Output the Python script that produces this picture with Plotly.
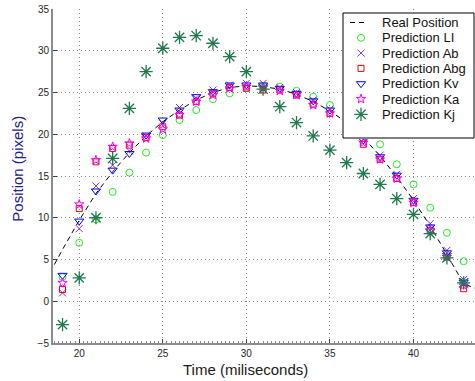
import plotly.graph_objects as go

# ---------------- data ----------------
time_ms = list(range(19, 44))
real_time = list(range(18, 45))
real_pos = [2.5, 6.2, 9.7, 12.9, 15.5, 17.8, 19.8, 21.5, 22.9, 24.1, 25.0, 25.6, 25.8,
            25.7, 25.4, 24.8, 23.9, 22.8, 21.4, 19.6, 17.4, 14.9, 12.1, 9.0, 5.6, 2.1, 1.3]

pred_li = [2.9, 7.0, 9.8, 13.1, 15.4, 17.8, 19.9, 21.7, 22.9, 24.2, 24.9, 25.6, 25.8,
           25.7, 25.2, 24.5, 23.5, 22.4, 20.9, 18.8, 16.4, 14.0, 11.2, 8.2, 4.8]
pred_ab = [1.0, 8.7, 13.8, 16.3, 18.0, 19.8, 21.3, 23.2, 24.3, 25.3, 25.9, 26.1, 26.1,
           25.6, 25.0, 24.1, 23.0, 21.6, 19.4, 17.5, 15.2, 12.3, 9.3, 6.1, 2.6]
pred_abg = [1.4, 11.1, 16.7, 18.3, 18.7, 19.6, 20.9, 22.3, 23.9, 24.9, 25.6, 25.5, 25.3,
            25.3, 24.7, 23.6, 22.5, 21.1, 18.8, 17.0, 14.7, 11.8, 8.5, 5.3, 1.5]
pred_kv = [3.1, 9.6, 13.2, 15.7, 17.7, 19.9, 21.7, 22.9, 24.5, 25.1, 25.9, 25.9, 25.9,
           25.5, 24.9, 24.0, 22.9, 21.5, 19.3, 17.3, 15.1, 12.1, 8.9, 5.8, 2.3]
pred_ka = [2.2, 11.6, 16.9, 18.5, 18.9, 19.5, 20.6, 22.3, 23.9, 24.7, 25.5, 25.7, 25.6,
           25.2, 24.7, 23.5, 22.5, 21.1, 19.0, 17.0, 14.7, 11.8, 8.5, 5.3, 1.9]
pred_kj = [-2.8, 2.8, 10.0, 17.1, 23.1, 27.5, 30.3, 31.6, 31.8, 30.9, 29.3, 27.5, 25.4,
           23.3, 21.4, 19.8, 18.1, 16.6, 15.3, 14.0, 12.3, 10.4, 8.1, 5.2, 2.2]

x_ticks = [20, 25, 30, 35, 40]
y_ticks = [-5, 0, 5, 10, 15, 20, 25, 30, 35]

real_name = "Real Position"
pred_names = ["Prediction LI", "Prediction Ab", "Prediction Abg",
              "Prediction Kv", "Prediction Ka", "Prediction Kj"]
pred_values = [pred_li, pred_ab, pred_abg, pred_kv, pred_ka, pred_kj]

# ---------------- styles ----------------
pred_styles = [
    dict(symbol="circle-open", size=7, color="#22ee22", line=dict(width=1, color="#22ee22")),
    dict(symbol="x-thin-open", size=7, color="#8a2be2", line=dict(width=1, color="#8a2be2")),
    dict(symbol="square-open", size=6, color="#ff0000", line=dict(width=1, color="#ff0000")),
    dict(symbol="triangle-down-open", size=8, color="#0000ff", line=dict(width=1, color="#0000ff")),
    dict(symbol="star-open", size=7, color="#ff00ff", line=dict(width=1, color="#ff00ff")),
    dict(symbol="asterisk-open", size=11, color="#1f7a4d", line=dict(width=1.3, color="#1f7a4d")),
]
real_line = dict(color="black", width=1, dash="5px,4px")

W, H = 475, 381
PL, PR, PT, PB = 53, 475, 9, 343          # plot area in pixels
LEG_L, LEG_R, LEG_T, LEG_B = 343, 474, 13, 138
LEG_ROW0, LEG_ROW_STEP = 22.5, 15.3
LEG_SYM_X, LEG_LINE_X0, LEG_LINE_X1, LEG_TEXT_X = 361, 350, 367, 380

fig = go.Figure()

fig.add_trace(go.Scatter(x=real_time, y=real_pos, mode="lines", line=real_line,
                         name=real_name, hoverinfo="skip"))
for name, vals, st in zip(pred_names, pred_values, pred_styles):
    fig.add_trace(go.Scatter(x=time_ms, y=vals, mode="markers", marker=st, name=name))

# ---------------- manual legend (overlay axes in pixel units) ----------------
fig.add_trace(go.Scatter(x=[LEG_L, LEG_R, LEG_R, LEG_L, LEG_L],
                         y=[LEG_T, LEG_T, LEG_B, LEG_B, LEG_T],
                         mode="lines", fill="toself", fillcolor="white",
                         line=dict(color="black", width=1),
                         xaxis="x2", yaxis="y2", hoverinfo="skip"))
labels = [real_name] + pred_names
for i, lab in enumerate(labels):
    yc = LEG_ROW0 + LEG_ROW_STEP * i
    if i == 0:
        fig.add_trace(go.Scatter(x=[LEG_LINE_X0, LEG_LINE_X1], y=[yc, yc], mode="lines",
                                 line=real_line, xaxis="x2", yaxis="y2", hoverinfo="skip"))
    else:
        fig.add_trace(go.Scatter(x=[LEG_SYM_X], y=[yc], mode="markers",
                                 marker=pred_styles[i - 1], xaxis="x2", yaxis="y2",
                                 hoverinfo="skip"))
    fig.add_annotation(x=LEG_TEXT_X, y=yc, xref="x2", yref="y2", text=lab,
                       showarrow=False, xanchor="left", yanchor="middle",
                       font=dict(size=13, color="#111111"))

pw, ph = PR - PL, PB - PT
axis_common = dict(
    showgrid=True, gridcolor="#8a8a8a", griddash="1px,3px", gridwidth=1,
    zeroline=False, showline=True, linecolor="#8c8c8c", linewidth=2,
    ticks="inside", ticklen=4, tickcolor="#404040", tickwidth=1,
    tickfont=dict(family="Liberation Sans, Arial, sans-serif", size=10, color="#262626"),
    mirror=False,
)
fig.update_layout(
    width=W, height=H,
    margin=dict(l=PL, r=W - PR, t=PT, b=H - PB),
    paper_bgcolor="white", plot_bgcolor="white",
    showlegend=False,
    font=dict(family="Liberation Sans, Arial, sans-serif"),
    xaxis=dict(range=[18.43, 43.68], tickvals=x_ticks, domain=[0, 1],
               minor=dict(dtick=0.25, tick0=20, ticks="inside", ticklen=2.5,
                          tickcolor="#8c8c8c", showgrid=False),
               **axis_common),
    yaxis=dict(range=[-5, 35], tickvals=y_ticks, domain=[0, 1], **axis_common),
    xaxis2=dict(domain=[(LEG_L - 1 - PL) / pw, min(1.0, (LEG_R + 1 - PL) / pw)],
                range=[LEG_L - 1, LEG_R + 1], visible=False, anchor="y2", fixedrange=True),
    yaxis2=dict(domain=[(PB - (LEG_B + 1)) / ph, (PB - (LEG_T - 1)) / ph],
                range=[LEG_B + 1, LEG_T - 1], visible=False, anchor="x2", fixedrange=True),
)

# axis titles
fig.add_annotation(x=(245.2 - PL) / pw, y=(PB - 369.3) / ph, xref="paper", yref="paper",
                   text="Time (miliseconds)", showarrow=False, xanchor="center",
                   yanchor="middle", font=dict(size=15, color="#1a1a1a"))
fig.add_annotation(x=(16.7 - PL) / pw, y=(PB - 169) / ph, xref="paper", yref="paper",
                   text="Position (pixels)", showarrow=False, textangle=-90,
                   xanchor="center", yanchor="middle", font=dict(size=15, color="#22228b"))

fig.write_html("out.html", config={"displayModeBar": False},
               post_script="document.body.style.margin='0';document.body.style.overflow='hidden';")
